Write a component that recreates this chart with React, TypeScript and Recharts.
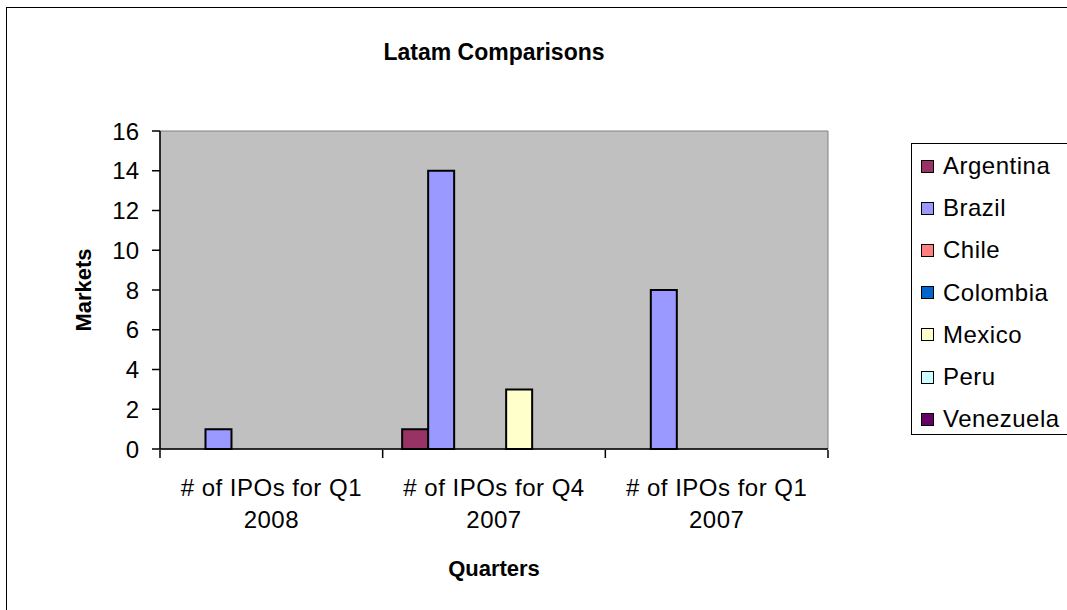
import React from 'react';
import { BarChart, Bar, XAxis, YAxis, CartesianGrid } from 'recharts';

// quarter labels shown under the axis (split into two lines when drawn)
const categories = ['# of IPOs for Q1 2008', '# of IPOs for Q4 2007', '# of IPOs for Q1 2007'];

// IPO counts per market, one value per quarter
const argentina = [0, 1, 0];
const brazil = [1, 14, 8];
const chile = [0, 0, 0];
const colombia = [0, 0, 0];
const mexico = [0, 3, 0];
const peru = [0, 0, 0];
const venezuela = [0, 0, 0];

const yTicks = [0, 2, 4, 6, 8, 10, 12, 14, 16];

const SERIES = [
  { key: 'Argentina', values: argentina, color: '#993366' },
  { key: 'Brazil', values: brazil, color: '#9999FF' },
  { key: 'Chile', values: chile, color: '#FF8080' },
  { key: 'Colombia', values: colombia, color: '#0066CC' },
  { key: 'Mexico', values: mexico, color: '#FFFFCC' },
  { key: 'Peru', values: peru, color: '#CCFFFF' },
  { key: 'Venezuela', values: venezuela, color: '#660066' }
];

const data = categories.map((name, i) => {
  const row: any = { name, pos: i + 0.5 };
  SERIES.forEach((s) => {
    row[s.key] = s.values[i];
  });
  return row;
});

// category boundaries for the tick marks between groups
const edgeTicks = categories.map((_, i) => i).concat([categories.length]);

const FONT = 'Arial, "Liberation Sans", sans-serif';

const QuarterTick = ({ x, y, payload }: any) => {
  const label: string = payload.value;
  const cut = label.lastIndexOf(' ');
  return (
    <text x={x} y={y} textAnchor="middle" fontFamily={FONT} fontSize={24} letterSpacing={0.5} fill="#000">
      <tspan x={x} dy={47}>{label.slice(0, cut)}</tspan>
      <tspan x={x} dy={32}>{label.slice(cut + 1)}</tspan>
    </text>
  );
};

const NoLabel = () => <g />;

const App = () => {
  return (
    <div
      style={{
        position: 'absolute',
        left: 0,
        top: 0,
        width: 1067,
        height: 610,
        overflow: 'hidden',
        background: '#fff',
        fontFamily: FONT
      }}
    >
      <div
        style={{
          position: 'absolute',
          left: 6,
          top: 7,
          width: 1100,
          height: 700,
          border: '1px solid #000'
        }}
      />

      <div style={{ position: 'absolute', left: 0, top: 0 }}>
        <BarChart
          width={1067}
          height={610}
          data={data}
          margin={{ top: 131, right: 239, left: 100, bottom: 159 }}
          barCategoryGap="8.75%"
          barGap={0}
        >
          <CartesianGrid
            fill="#C0C0C0"
            stroke="#808080"
            horizontalCoordinatesGenerator={({ offset }: any) => [offset.top, offset.top + offset.height]}
            verticalCoordinatesGenerator={({ offset }: any) => [offset.left, offset.left + offset.width]}
          />
          <XAxis
            dataKey="name"
            height={1}
            tickLine={false}
            tickSize={0}
            tickMargin={0}
            axisLine={{ stroke: '#000', strokeWidth: 1.5 }}
            tick={<QuarterTick />}
            interval={0}
          />
          <XAxis
            xAxisId="edges"
            dataKey="pos"
            type="number"
            domain={[0, categories.length]}
            ticks={edgeTicks}
            interval={0}
            height={1}
            axisLine={false}
            tick={<NoLabel />}
            tickLine={{ stroke: '#000', strokeWidth: 1.5 }}
            tickSize={8}
            allowDataOverflow
          />
          <YAxis
            width={60}
            domain={[0, 16]}
            ticks={yTicks}
            interval={0}
            tickSize={8}
            tickMargin={13}
            axisLine={{ stroke: '#000', strokeWidth: 1.5 }}
            tickLine={{ stroke: '#000', strokeWidth: 1.5 }}
            tick={{ fill: '#000', fontSize: 24, fontFamily: FONT }}
          />
          {SERIES.map((s) => (
            <Bar
              key={s.key}
              dataKey={s.key}
              fill={s.color}
              stroke="#000"
              strokeWidth={2}
              isAnimationActive={false}
            />
          ))}
        </BarChart>
      </div>

      <svg
        width={1067}
        height={610}
        style={{ position: 'absolute', left: 0, top: 0, pointerEvents: 'none' }}
      >
        <text x={494} y={60} textAnchor="middle" fontFamily={FONT} fontWeight="bold" fontSize={23} fill="#000">
          Latam Comparisons
        </text>
        <text x={494} y={576} textAnchor="middle" fontFamily={FONT} fontWeight="bold" fontSize={22} fill="#000">
          Quarters
        </text>
        <text
          transform="translate(91,290) rotate(-90)"
          textAnchor="middle"
          fontFamily={FONT}
          fontWeight="bold"
          fontSize={22}
          fill="#000"
        >
          Markets
        </text>
      </svg>

      <div
        style={{
          position: 'absolute',
          left: 911,
          top: 143,
          width: 200,
          height: 292,
          border: '1px solid #000',
          boxSizing: 'border-box',
          paddingTop: 1
        }}
      >
        {SERIES.map((s) => (
          <div
            key={s.key}
            style={{ height: 42.2, display: 'flex', alignItems: 'center', paddingLeft: 9 }}
          >
            <div
              style={{
                width: 13,
                height: 13,
                background: s.color,
                border: '1.5px solid #000',
                boxSizing: 'border-box'
              }}
            />
            <span style={{ marginLeft: 9, fontSize: 24, letterSpacing: 0.5, color: '#000', whiteSpace: 'nowrap' }}>
              {s.key}
            </span>
          </div>
        ))}
      </div>
    </div>
  );
};

export default App;
